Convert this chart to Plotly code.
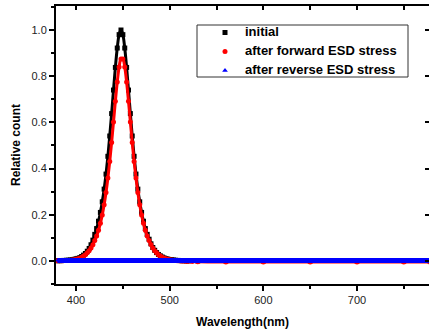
import plotly.graph_objects as go

# ---- data (wavelength in nm, relative count) ----
wl_initial = [380, 382, 384, 386, 388, 390, 392, 394, 396, 398,
              400, 402, 404, 406, 408, 410, 412, 414, 416, 418,
              420, 422, 424, 426, 428, 430, 432, 434, 436, 438,
              440, 442, 444, 446, 448, 450, 452, 454, 456, 458,
              460, 462, 464, 466, 468, 470, 472, 474, 476, 478,
              480, 482, 484, 486, 488, 490, 492, 494, 496, 498,
              500, 502, 504, 506, 508, 510, 512, 514, 516, 518,
              520, 530, 560, 600, 650, 700, 750, 778]
initial = [0.001, 0.001, 0.001, 0.002, 0.002, 0.003, 0.003, 0.004, 0.005, 0.007,
           0.009, 0.011, 0.014, 0.019, 0.025, 0.032, 0.042, 0.054, 0.070, 0.090,
           0.115, 0.140, 0.172, 0.210, 0.256, 0.311, 0.376, 0.453, 0.541, 0.638,
           0.740, 0.838, 0.922, 0.980, 1.000, 0.980, 0.922, 0.838, 0.740, 0.638,
           0.541, 0.453, 0.376, 0.311, 0.256, 0.210, 0.172, 0.140, 0.115, 0.094,
           0.074, 0.058, 0.046, 0.036, 0.028, 0.022, 0.017, 0.013, 0.010, 0.008,
           0.006, 0.005, 0.004, 0.003, 0.002, 0.002, 0.001, 0.001, 0.001, 0.000,
           0.000, 0.000, 0.000, 0.000, 0.000, 0.000, 0.000, 0.000]

wl_forward = [380, 382, 384, 386, 388, 390, 392, 394, 396, 398,
              400, 402, 404, 406, 408, 410, 412, 414, 416, 418,
              420, 422, 424, 426, 428, 430, 432, 434, 436, 438,
              440, 442, 444, 446, 448, 450, 452, 454, 456, 458,
              460, 462, 464, 466, 468, 470, 472, 474, 476, 478,
              480, 482, 484, 486, 488, 490, 492, 494, 496, 498,
              500, 502, 504, 506, 508, 510, 512, 514, 516, 518,
              520, 524, 530, 560, 600, 650, 700, 750, 778]
forward = [0.001, 0.001, 0.001, 0.001, 0.002, 0.002, 0.002, 0.003, 0.004, 0.005,
           0.007, 0.009, 0.012, 0.016, 0.021, 0.027, 0.035, 0.044, 0.056, 0.070,
           0.088, 0.108, 0.133, 0.163, 0.199, 0.243, 0.296, 0.359, 0.431, 0.513,
           0.602, 0.692, 0.775, 0.840, 0.875, 0.875, 0.840, 0.775, 0.692, 0.602,
           0.513, 0.431, 0.359, 0.296, 0.243, 0.199, 0.163, 0.133, 0.108, 0.088,
           0.071, 0.056, 0.044, 0.035, 0.027, 0.021, 0.016, 0.012, 0.009, 0.007,
           0.005, 0.004, 0.003, 0.002, 0.001, 0.001, 0.000, 0.000, 0.000, -0.001,
           -0.002, -0.003, -0.004, -0.005, -0.005, -0.005, -0.005, -0.005, -0.005]

wl_reverse = [380, 400, 420, 440, 460, 480, 500, 520, 540, 560, 580, 600,
              620, 640, 660, 680, 700, 720, 740, 760, 778]
reverse = [0.002, 0.002, 0.002, 0.002, 0.002, 0.002, 0.002, 0.002, 0.002, 0.002, 0.002, 0.002,
           0.002, 0.002, 0.002, 0.002, 0.002, 0.002, 0.002, 0.002, 0.002]

series_names = ["initial", "after forward ESD stress", "after reverse ESD stress"]
series_colors = ["#000000", "#ff0000", "#0000ff"]
series_symbols = ["square", "circle", "triangle-up"]

FONT = "Liberation Sans, Arial, sans-serif"

fig = go.Figure()

data = [(wl_initial, initial), (wl_forward, forward), (wl_reverse, reverse)]
widths = [3, 3, 5]
msizes = [5, 5, 4]
for (xs, ys), name, col, sym, w, ms in zip(data, series_names, series_colors, series_symbols, widths, msizes):
    fig.add_trace(go.Scatter(
        x=xs, y=ys, mode="lines+markers", name=name, showlegend=False,
        line=dict(color=col, width=w, shape="spline"),
        marker=dict(color=col, symbol=sym, size=ms, line=dict(width=0)),
    ))

# legend entries (marker only, like the reference)
for name, col, sym in zip(series_names, series_colors, series_symbols):
    fig.add_trace(go.Scatter(
        x=[None], y=[None], mode="markers",
        name="<span style='font-size:13px'><b>" + name + "</b></span>",
        marker=dict(color=col, symbol=sym, size=5, line=dict(width=0)),
    ))

# helper trace for mirrored inward ticks (top and right)
fig.add_trace(go.Scatter(x=[None], y=[None], xaxis="x2", yaxis="y2", showlegend=False, hoverinfo="skip"))

xr = [378.6, 776.9]
yr = [-0.1, 1.104]

fig.update_layout(
    width=429, height=333,
    margin=dict(l=56, r=0, t=6, b=49),
    paper_bgcolor="white", plot_bgcolor="white",
    font=dict(family=FONT, size=11, color="#222222"),
    xaxis=dict(
        range=xr, showgrid=False, zeroline=False,
        showline=True, linecolor="black", linewidth=2,
        ticks="outside", tick0=400, dtick=100, ticklen=5, tickwidth=1.5, tickcolor="black",
        minor=dict(ticks="outside", dtick=50, tick0=400, ticklen=3, tickwidth=1.5, tickcolor="black"),
        title=dict(text="<b>Wavelength(nm)</b>", font=dict(size=12, color="black"), standoff=12),
        tickfont=dict(size=11, color="#222222"),
    ),
    xaxis2=dict(
        overlaying="x", side="top", matches="x", range=xr,
        showgrid=False, zeroline=False, showline=True, linecolor="black", linewidth=2,
        ticks="inside", tick0=400, dtick=50, ticklen=4, tickwidth=1.5, tickcolor="black",
        showticklabels=False,
    ),
    yaxis=dict(
        range=yr, showgrid=False, zeroline=False,
        showline=True, linecolor="black", linewidth=2,
        ticks="outside", tick0=0, dtick=0.2, ticklen=5, tickwidth=1.5, tickcolor="black",
        tickformat=".1f",
        minor=dict(ticks="outside", dtick=0.1, tick0=0, ticklen=3, tickwidth=1.5, tickcolor="black"),
        title=dict(text="<b>Relative count</b>", font=dict(size=12, color="black"), standoff=8),
        tickfont=dict(size=11, color="#222222"),
    ),
    yaxis2=dict(
        overlaying="y", side="right", matches="y", range=yr,
        showgrid=False, zeroline=False, showline=False,
        ticks="inside", tick0=0, dtick=0.2, ticklen=4, tickwidth=1.5, tickcolor="black",
        showticklabels=False,
    ),
    legend=dict(
        x=(205 - 56) / 373, y=(284 - 18) / 278, xanchor="left", yanchor="top",
        bgcolor="rgba(0,0,0,0)", borderwidth=0,
        font=dict(size=9.5, color="black", family=FONT),
        itemwidth=30, tracegroupgap=0,
    ),
    shapes=[dict(
        type="rect", xref="paper", yref="paper",
        x0=(197 - 56) / 373, x1=(408 - 56) / 373,
        y0=(284 - 77) / 278, y1=(284 - 25) / 278,
        line=dict(color="#333333", width=1), fillcolor="rgba(0,0,0,0)",
    )],
    showlegend=True,
)

fig.write_html("out.html", config={"displayModeBar": False},
               post_script="document.body.style.margin='0';")
